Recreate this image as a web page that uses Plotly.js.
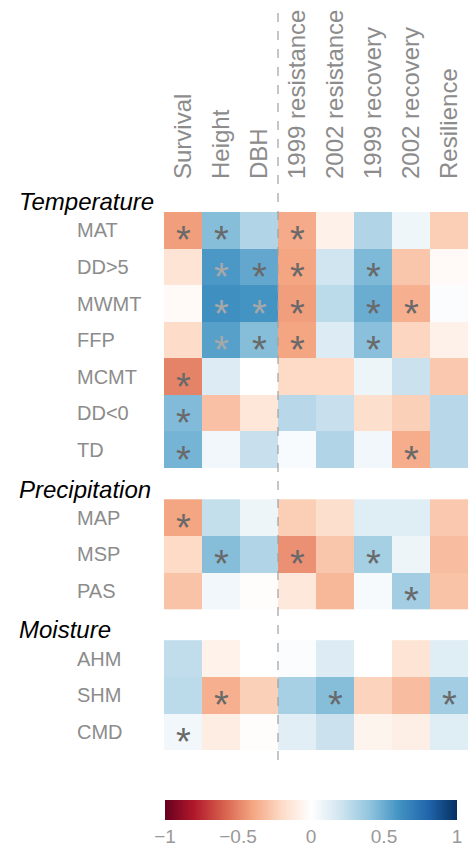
<!DOCTYPE html>
<html><head><meta charset="utf-8">
<script src="https://cdn.plot.ly/plotly-3.0.1.min.js"></script>
<style>body{margin:0;background:#fff}#chart{width:468px;height:847px}</style>
</head><body><div id="chart"></div>
<script>
var columns = ["Survival","Height","DBH","1999 resistance","2002 resistance","1999 recovery","2002 recovery","Resilience"];
var groupNames = ["Temperature","Precipitation","Moisture"];
var tempRows = ["MAT","DD>5","MWMT","FFP","MCMT","DD<0","TD"];
var precRows = ["MAP","MSP","PAS"];
var moistRows = ["AHM","SHM","CMD"];

var tempValues = [
  [-0.42, 0.43, 0.30, -0.38, -0.08, 0.30, 0.07, -0.25],
  [-0.15, 0.58, 0.52, -0.40, 0.20, 0.45, -0.28, -0.03],
  [-0.03, 0.62, 0.60, -0.42, 0.27, 0.50, -0.36, 0.02],
  [-0.19, 0.55, 0.43, -0.40, 0.15, 0.42, -0.22, -0.08],
  [-0.50, 0.15, 0.00, -0.20, -0.20, 0.08, 0.22, -0.27],
  [0.44, -0.30, -0.14, 0.28, 0.23, -0.18, -0.24, 0.28],
  [0.47, 0.06, 0.23, 0.03, 0.30, 0.06, -0.37, 0.28]
];
var precValues = [
  [-0.40, 0.24, 0.08, -0.25, -0.18, 0.14, 0.14, -0.27],
  [-0.20, 0.43, 0.30, -0.46, -0.28, 0.34, 0.08, -0.31],
  [-0.29, 0.06, -0.01, -0.13, -0.33, 0.04, 0.35, -0.29]
];
var moistValues = [
  [0.25, -0.07, 0.00, 0.02, 0.15, 0.00, -0.15, 0.14],
  [0.27, -0.36, -0.24, 0.33, 0.43, -0.23, -0.31, 0.35],
  [0.06, -0.10, -0.01, 0.13, 0.22, -0.06, -0.09, 0.14]
];
var tempSig = [
  [1,1,0,1,0,0,0,0],
  [0,1,1,1,0,1,0,0],
  [0,1,1,1,0,1,1,0],
  [0,1,1,1,0,1,0,0],
  [1,0,0,0,0,0,0,0],
  [1,0,0,0,0,0,0,0],
  [1,0,0,0,0,0,1,0]
];
var precSig = [
  [1,0,0,0,0,0,0,0],
  [0,1,0,1,0,1,0,0],
  [0,0,0,0,0,0,1,0]
];
var moistSig = [
  [0,0,0,0,0,0,0,0],
  [0,1,0,0,1,0,0,1],
  [1,0,0,0,0,0,0,0]
];
var colorbarTicks = [-1,-0.5,0,0.5,1];
var colorbarTickText = ["\u22121","\u22120.5","0","0.5","1"];

var groups = [
  {name: groupNames[0], rows: tempRows, z: tempValues, sig: tempSig},
  {name: groupNames[1], rows: precRows, z: precValues, sig: precSig},
  {name: groupNames[2], rows: moistRows, z: moistValues, sig: moistSig}
];

var FONT = "Liberation Sans, Arial, sans-serif";
var GAP = 0.85;
var traces = [];
var annotations = [];
var pos = 0;
var PL = 164, PW = 304;
function px2paperX(px){ return (px-PL)/PW; }

groups.forEach(function(g, gi){
  if (gi > 0) pos += GAP;
  var ys = g.rows.map(function(r, i){ return pos + i; });
  traces.push({
    type: "heatmap", x: columns, y: ys, z: g.z, coloraxis: "coloraxis",
    hoverongaps: false, xgap: 0, ygap: 0
  });
  annotations.push({
    text: g.name, xref: "paper", yref: "y", x: px2paperX(17), y: ys[0] - 0.78,
    xanchor: "left", yanchor: "middle", showarrow: false,
    font: {family: FONT, size: 24, color: "#000", style: "italic"}
  });
  g.rows.forEach(function(r, i){
    annotations.push({
      text: r, xref: "paper", yref: "y", x: px2paperX(75), y: ys[i],
      xanchor: "left", yanchor: "middle", showarrow: false,
      font: {family: FONT, size: 20, color: "#8c8c8c"}
    });
    g.sig[i].forEach(function(s, j){
      if (!s) return;
      var v = g.z[i][j];
      annotations.push({
        text: "*", xref: "x", yref: "y", x: columns[j], y: ys[i],
        xanchor: "center", yanchor: "middle", showarrow: false, yshift: -10,
        font: {family: FONT, size: 38, color: v > 0.53 ? "#a8a8a8" : "#696969"}
      });
    });
  });
  pos += g.rows.length;
});
var yBottom = pos - 0.5;
var yTop = -0.5 - 32/36.6;

var rdbu = [
  [0.0,"#67001F"],[0.1,"#B2182B"],[0.2,"#D6604D"],[0.3,"#F4A582"],[0.4,"#FDDBC7"],
  [0.5,"#FFFFFF"],[0.6,"#D1E5F0"],[0.7,"#92C5DE"],[0.8,"#4393C3"],[0.9,"#2166AC"],[1.0,"#053061"]
];

var layout = {
  width: 468, height: 847,
  margin: {l: 164, r: 0, t: 180, b: 97},
  paper_bgcolor: "#fff", plot_bgcolor: "#fff",
  font: {family: FONT, color: "#8c8c8c"},
  showlegend: false,
  xaxis: {
    type: "category", side: "top", tickangle: -90, showgrid: false, zeroline: false,
    showline: false, ticks: "", tickfont: {size: 24, color: "#8c8c8c"}, fixedrange: true
  },
  yaxis: {
    range: [yBottom, yTop], visible: false, showgrid: false, zeroline: false, fixedrange: true
  },
  coloraxis: {
    cmin: -1, cmax: 1, colorscale: rdbu,
    colorbar: {
      orientation: "h", x: px2paperX(165), xanchor: "left", len: 292/304, lenmode: "fraction",
      y: -50/570, yanchor: "top", thickness: 20, thicknessmode: "pixels",
      xpad: 0, ypad: 0, outlinewidth: 0, ticks: "",
      tickvals: colorbarTicks, ticktext: colorbarTickText,
      tickfont: {size: 19, color: "#999999"}
    }
  },
  shapes: [{
    type: "line", xref: "x", yref: "paper", x0: 2.5, x1: 2.5, y0: -10/570, y1: 745/570,
    line: {color: "#a0a0a0", width: 1.2, dash: "dash"}
  }],
  annotations: annotations
};

Plotly.newPlot("chart", traces, layout, {displayModeBar: false, staticPlot: true});
</script>
</body></html>
